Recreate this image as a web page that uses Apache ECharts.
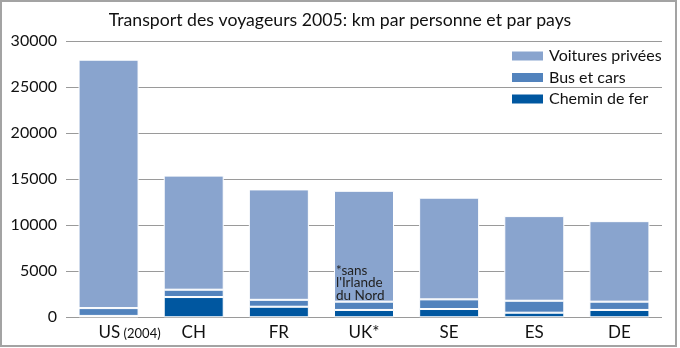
<!DOCTYPE html>
<html>
<head>
<meta charset="utf-8">
<script src="https://cdn.jsdelivr.net/npm/echarts@6/dist/echarts.min.js"></script>
<style>
html,body{margin:0;padding:0;background:#fff;}
#c{width:680px;height:348px;}
</style>
</head>
<body>
<div id="c"></div>
<script>
const categories = ['US', 'CH', 'FR', 'UK*', 'SE', 'ES', 'DE'];
const railValues = [150, 2200, 1150, 800, 900, 500, 800];
const busValues = [850, 800, 750, 900, 1050, 1300, 900];
const carValues = [27000, 12400, 12000, 12050, 11050, 9200, 8750];
const yTicks = [0, 5000, 10000, 15000, 20000, 25000, 30000];
const seriesNames = ['Voitures privées', 'Bus et cars', 'Chemin de fer'];
const ukNote = "*sans\nl'Irlande\ndu Nord";

const FONT = 'Lato, "Open Sans", sans-serif';
const chart = echarts.init(document.getElementById('c'), null, {renderer: 'canvas'});

const carData = carValues.map((v, i) => {
  if (categories[i] === 'UK*') {
    return {
      value: v,
      label: {
        show: true,
        position: 'insideBottomLeft',
        distance: 0,
        offset: [2, 0],
        formatter: ukNote,
        fontFamily: FONT,
        fontSize: 13.5,
        lineHeight: 12.5,
        color: '#222',
        align: 'left'
      }
    };
  }
  return v;
});

chart.setOption({
  animation: false,
  textStyle: {fontFamily: FONT},
  title: {
    text: 'Transport des voyageurs 2005: km par personne et par pays',
    left: 'center',
    top: 6,
    textStyle: {fontFamily: FONT, fontSize: 17.7, fontWeight: 'normal', color: '#111'}
  },
  legend: {
    orient: 'vertical',
    left: 510,
    top: 48,
    padding: 0,
    itemWidth: 33,
    itemHeight: 11,
    itemGap: 5.5,
    data: seriesNames,
    textStyle: {fontFamily: FONT, fontSize: 16, color: '#111'},
    icon: 'rect'
  },
  graphic: [{
    type: 'rect',
    shape: {x: 1, y: 1, width: 675, height: 345},
    style: {fill: 'none', stroke: '#a3a3a3', lineWidth: 2},
    silent: true,
    z: 100
  }],
  grid: {left: 66, right: 18, top: 41.3, bottom: 30.7},
  xAxis: {
    type: 'category',
    data: categories,
    axisLine: {show: false},
    axisTick: {show: false},
    axisLabel: {
      interval: 0,
      margin: 7,
      fontFamily: FONT,
      fontSize: 17,
      color: '#111',
      formatter: function (v) {
        if (v === 'US') return '{pad|}{m|US}{s| (2004)}';
        return '{m|' + v + '}';
      },
      rich: {
        pad: {width: 42},
        m: {fontFamily: FONT, fontSize: 17, color: '#111'},
        s: {fontFamily: FONT, fontSize: 13, color: '#111', padding: [3, 0, 0, 0]}
      }
    }
  },
  yAxis: {
    type: 'value',
    min: yTicks[0],
    max: yTicks[yTicks.length - 1],
    interval: yTicks[1] - yTicks[0],
    axisLine: {show: false},
    axisTick: {show: false},
    axisLabel: {margin: 9, fontFamily: FONT, fontSize: 16, color: '#111', formatter: v => String(v)},
    splitLine: {lineStyle: {color: '#9a9a9a', width: 1}}
  },
  series: [
    {
      name: 'Chemin de fer', type: 'bar', stack: 't', barWidth: 60,
      data: railValues,
      itemStyle: {color: '#0057a0', borderColor: '#fff', borderWidth: 1}
    },
    {
      name: 'Bus et cars', type: 'bar', stack: 't', barWidth: 60,
      data: busValues,
      itemStyle: {color: '#5283bd', borderColor: '#fff', borderWidth: 1}
    },
    {
      name: 'Voitures privées', type: 'bar', stack: 't', barWidth: 60,
      data: carData,
      itemStyle: {color: '#89a4ce', borderColor: '#fff', borderWidth: 1}
    }
  ]
});
</script>
</body>
</html>
